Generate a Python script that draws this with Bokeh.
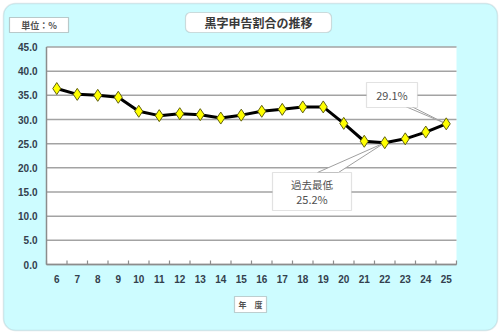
from bokeh.plotting import figure
from bokeh.models import Range1d, BoxAnnotation, Label
from bokeh.core.properties import value
from bokeh.embed import file_html
from bokeh.resources import INLINE

# ---- data ----
years = list(range(6, 26))
values = [36.4, 35.2, 35.0, 34.6, 31.7, 30.8, 31.2, 31.0, 30.3, 30.9,
          31.7, 32.1, 32.6, 32.6, 29.2, 25.5, 25.2, 26.0, 27.4, 29.1]
y_ticks = [0, 5, 10, 15, 20, 25, 30, 35, 40, 45]
y_tick_labels = [f"{t:.1f}" for t in y_ticks]
x_tick_labels = [str(y) for y in years]
title_text = "黒字申告割合の推移"
unit_text = "単位：%"
xlabel_text = "年　度"
low_caption = "過去最低"

# ---- layout (pixel geometry of the plot area) ----
W, H = 500, 334
PL, PR, PT, PB = 46, 456, 46.5, 264
x0, x1 = years[0] - 0.5, years[-1] + 0.5
y0, y1 = y_ticks[0], y_ticks[-1]
sx = (PR - PL) / (x1 - x0)
sy = (PB - PT) / (y1 - y0)


def xd(px):
    return x0 + (px - PL) / sx


def yd(py):
    return y0 + (PB - py) / sy


JP = "Noto Sans CJK JP"
NUM = "Liberation Sans"

p = figure(width=W, height=H, x_range=Range1d(xd(0), xd(W)), y_range=Range1d(yd(H), yd(0)),
           output_backend="svg", toolbar_location=None,
           x_axis_location=None, y_axis_location=None,
           min_border=0, min_border_left=0, min_border_right=0,
           min_border_top=0, min_border_bottom=0)
p.outline_line_color = None
p.border_fill_color = "white"
p.background_fill_color = "white"
p.xgrid.visible = False
p.ygrid.visible = False

# background rounded panel and white plot area
p.add_layout(BoxAnnotation(left=xd(3), right=xd(497), top=yd(3), bottom=yd(330),
                           fill_color="#cdfcff", fill_alpha=1, line_color="#9fb4ba",
                           line_width=1.5, border_radius=12, level="image"))
p.add_layout(BoxAnnotation(left=x0, right=x1, bottom=y0, top=y1,
                           fill_color="white", fill_alpha=1, line_color=None,
                           level="image"))

GRID = "#a3a3a3"
AX = "#8c8c8c"
# horizontal grid lines
n = len(y_ticks)
p.segment(x0=[x0] * n, x1=[x1] * n, y0=y_ticks, y1=y_ticks,
          line_color=GRID, line_width=1.5)
# axis lines
p.segment(x0=[x0, x0], y0=[y0, y0], x1=[x0, x1], y1=[y1, y0],
          line_color=AX, line_width=1.5)
# x ticks at category boundaries (pointing inward)
bounds = [y - 0.5 for y in years] + [years[-1] + 0.5]
tick_len = 4 / sy
p.segment(x0=bounds, x1=bounds, y0=[y0] * len(bounds), y1=[y0 + tick_len] * len(bounds),
          line_color=AX, line_width=1.2)

# tick labels
p.text(x=[x0 - 9 / sx] * n, y=y_ticks, text=y_tick_labels,
       text_align="right", text_baseline="middle", text_font=value(NUM),
       text_font_style="bold", text_font_size="10px", text_color="#33404d")
p.text(x=years, y=[yd(278)] * len(years), text=x_tick_labels,
       text_align="center", text_baseline="middle", text_font=value(NUM),
       text_font_style="bold", text_font_size="10px", text_color="#33404d")

# callout wedges
i_low = values.index(min(values))
p.patch([xd(405), xd(411), years[-1]], [yd(106), yd(106), values[-1]],
        fill_color="white", line_color="#a0a0a0", line_width=1)
p.patch([xd(317), xd(338), years[i_low]], [yd(172), yd(172), values[i_low]],
        fill_color="white", line_color="#a0a0a0", line_width=1)

# series
p.line(years, values, line_color="black", line_width=3)
p.scatter(years, values, marker="diamond", size=12, fill_color="#ffff00",
          line_color="#606010", line_width=1)


def box(l, r, t, b, radius=0, color="#707070"):
    p.add_layout(BoxAnnotation(left=xd(l), right=xd(r), top=yd(t), bottom=yd(b),
                               fill_color="white", fill_alpha=1, line_color=color,
                               line_width=1.2, border_radius=radius))


def text(cx, cy, s, size, font=JP, style="normal", color="#404040"):
    p.add_layout(Label(x=xd(cx), y=yd(cy), text=s, text_align="center",
                       text_baseline="middle", text_font=font, text_font_size=size,
                       text_font_style=style, text_color=color))


# title
box(185, 331, 12, 32, radius=5, color="#8a8a8a")
text(258, 22, title_text, "12px", style="bold", color="#3a3a3a")
# unit
box(9, 68, 17, 32, color="#505050")
text(38.5, 24.5, unit_text, "9px", style="bold", color="#505050")
# x label
box(234, 266, 296, 312, color="#606060")
text(250, 304, xlabel_text, "8px", style="bold", color="#505050")
# notes
box(366, 417, 82, 107, color="#a0a0a0")
text(391.5, 94.5, f"{values[-1]:.1f}%", "11px", color="#505050")
box(272, 351, 172, 210, color="#a0a0a0")
text(311.5, 183.5, low_caption, "10.5px", color="#505050")
text(311.5, 198.5, f"{values[i_low]:.1f}%", "11px", color="#505050")

open("out.html", "w").write(file_html(p, INLINE))
